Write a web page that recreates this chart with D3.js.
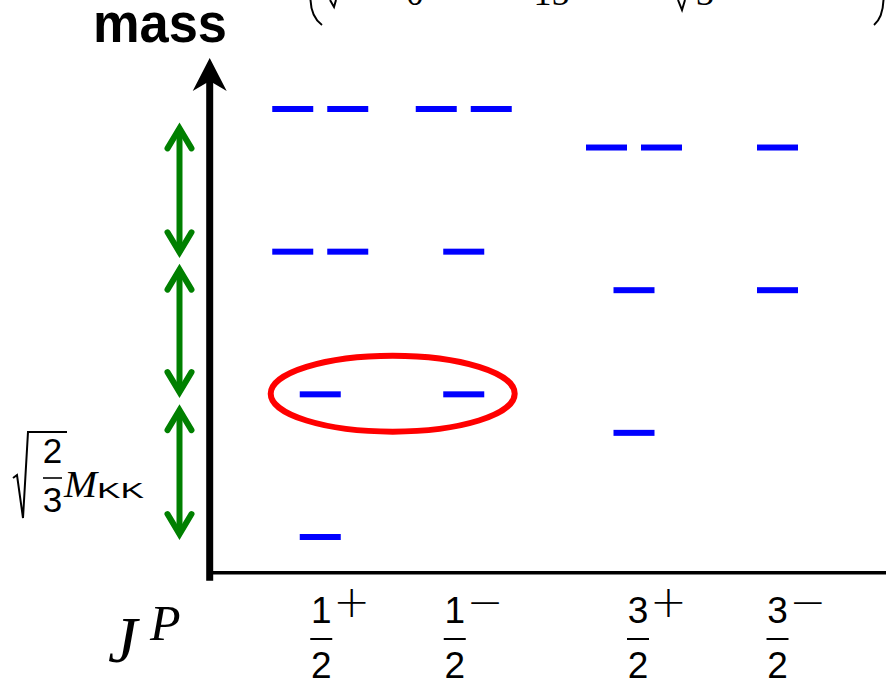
<!DOCTYPE html>
<html>
<head>
<meta charset="utf-8">
<script src="https://cdn.jsdelivr.net/npm/d3@7"></script>
<style>
  html, body { margin: 0; padding: 0; background: #fff; }
  svg { display: block; }
</style>
</head>
<body>
<div id="chart"></div>
<script>
// columns of the spectrum: spin groups and parities
var spins = ['1/2', '3/2'];
var parities = ['+', '-'];

// one entry per level: column, mass (units of sqrt(2/3) M_KK), number of degenerate states
var levelSpin   = ['1/2', '1/2', '1/2', '1/2', '1/2', '1/2', '1/2', '3/2', '3/2', '3/2', '3/2', '3/2'];
var levelParity = ['+', '+', '+', '+', '-', '-', '-', '+', '+', '+', '-', '-'];
var levelMass   = [0, 1, 2, 3, 1, 2, 3, 0.73, 1.73, 2.73, 1.73, 2.73];
var levelCount  = [1, 1, 2, 2, 1, 1, 2, 1, 1, 2, 1, 1];

// green spacing arrows (mass at lower and upper tip)
var gapFrom = [-0.02, 0.975, 1.955];
var gapTo   = [0.93, 1.915, 2.905];

// tick labels, one per column (spin x parity)
var tickNumerators = ['1', '1', '3', '3'];
var tickSigns = ['+', '\u2212', '+', '\u2212'];

// circled pair
var highlightSpin = '1/2';
var highlightMass = 1;

var width = 886, height = 683;

var svg = d3.select('#chart')
    .append('svg')
    .attr('width', width)
    .attr('height', height);

var x = d3.scalePoint().domain(spins).range([392, 705.75]);
var xParity = d3.scalePoint().domain(parities).range([-71.75, 71.75]);
var y = d3.scaleLinear().domain([0, 3]).range([537, 109]);

function colX(s, p) {
    return x(s) + xParity(p);
}

// axes
var axisX = 209.7;
svg.append('line')
    .attr('x1', axisX).attr('x2', axisX)
    .attr('y1', 580.7).attr('y2', 80)
    .attr('stroke', '#000').attr('stroke-width', 7);
svg.append('path')
    .attr('d', 'M' + axisX + ',58 L' + (axisX + 17) + ',91 L' + axisX + ',81 L' + (axisX - 17) + ',91 Z')
    .attr('fill', '#000');
svg.append('line')
    .attr('x1', axisX + 3).attr('x2', width)
    .attr('y1', y(-0.25)).attr('y2', y(-0.25))
    .attr('stroke', '#000').attr('stroke-width', 3.5);

// levels
var dashW = 41, dashStep = 55, dashH = 6;
var dashes = [];
levelMass.forEach(function (m, i) {
    var cx = colX(levelSpin[i], levelParity[i]);
    var n = levelCount[i];
    for (let k = 0; k < n; k++) {
        dashes.push({ cx: cx + (k - (n - 1) / 2) * dashStep, m: m });
    }
});
svg.append('g')
    .selectAll('rect')
    .data(dashes)
    .enter()
    .append('rect')
    .attr('x', d => d.cx - dashW / 2)
    .attr('y', d => y(d.m) - dashH / 2)
    .attr('width', dashW)
    .attr('height', dashH)
    .attr('fill', '#0000ff');

// highlight ellipse
svg.append('ellipse')
    .attr('cx', x(highlightSpin) + 0.7)
    .attr('cy', y(highlightMass) - 0.7)
    .attr('rx', 122)
    .attr('ry', 38)
    .attr('fill', 'none')
    .attr('stroke', '#ff0000')
    .attr('stroke-width', 6);

// green double arrows
var arrowX = 179.5, headDx = 12, headDy = 20, tipExt = 5.8;
var arrows = svg.append('g')
    .attr('stroke', '#008000')
    .attr('stroke-width', 6)
    .attr('fill', 'none');
gapFrom.forEach(function (m0, i) {
    var yb = y(m0) - tipExt;
    var yt = y(gapTo[i]) + tipExt;
    arrows.append('line')
        .attr('x1', arrowX).attr('x2', arrowX)
        .attr('y1', yb).attr('y2', yt);
    arrows.append('path')
        .attr('d', 'M' + (arrowX - headDx) + ',' + (yt + headDy) + ' L' + arrowX + ',' + yt + ' L' + (arrowX + headDx) + ',' + (yt + headDy))
        .attr('stroke-linecap', 'round');
    arrows.append('path')
        .attr('d', 'M' + (arrowX - headDx) + ',' + (yb - headDy) + ' L' + arrowX + ',' + yb + ' L' + (arrowX + headDx) + ',' + (yb - headDy))
        .attr('stroke-linecap', 'round');
});

// column tick labels: fraction with parity superscript
var labelNudge = [1, -9, 4, 0];
var columns = [];
spins.forEach(s => parities.forEach(p => columns.push({ s: s, p: p })));
columns.forEach(function (c, i) {
    var cx = colX(c.s, c.p) + labelNudge[i];
    var g = svg.append('g')
        .attr('font-family', 'Liberation Sans, Arial, sans-serif')
        .attr('fill', '#000');
    g.append('text')
        .attr('x', cx).attr('y', 623)
        .attr('text-anchor', 'middle')
        .attr('font-size', 37)
        .text(tickNumerators[i]);
    g.append('line')
        .attr('x1', cx - 11).attr('x2', cx + 11)
        .attr('y1', 639).attr('y2', 639)
        .attr('stroke', '#000').attr('stroke-width', 2);
    g.append('text')
        .attr('x', cx).attr('y', 678)
        .attr('text-anchor', 'middle')
        .attr('font-size', 37)
        .text('2');
    g.append('text')
        .attr('x', cx + 12).attr('y', 617)
        .attr('font-family', 'DejaVu Sans')
        .attr('font-weight', 200)
        .attr('font-size', 44)
        .text(tickSigns[i]);
});

// J^P
svg.append('text')
    .attr('x', 108).attr('y', 662)
    .attr('font-family', 'Liberation Serif, serif')
    .attr('font-style', 'italic')
    .attr('font-size', 66)
    .text('J');
svg.append('text')
    .attr('x', 150).attr('y', 640)
    .attr('font-family', 'Liberation Serif, serif')
    .attr('font-style', 'italic')
    .attr('font-size', 50)
    .text('P');

// axis title
svg.append('text')
    .attr('x', 93).attr('y', 42)
    .attr('font-family', 'Liberation Sans, Arial, sans-serif')
    .attr('font-weight', 'bold')
    .attr('font-size', 56)
    .attr('textLength', 134)
    .attr('lengthAdjust', 'spacingAndGlyphs')
    .text('mass');

// spacing label: sqrt(2/3) M_KK
var sq = svg.append('g');
sq.append('path')
    .attr('d', 'M13,478 L17,475 L23,518 L28,432 L67,432')
    .attr('fill', 'none').attr('stroke', '#000').attr('stroke-width', 2);
sq.append('text')
    .attr('x', 52.5).attr('y', 463)
    .attr('text-anchor', 'middle')
    .attr('font-family', 'Liberation Sans, Arial, sans-serif')
    .attr('font-size', 35)
    .text('2');
sq.append('line')
    .attr('x1', 43).attr('x2', 62)
    .attr('y1', 478).attr('y2', 478)
    .attr('stroke', '#000').attr('stroke-width', 1.6);
sq.append('text')
    .attr('x', 52.5).attr('y', 512)
    .attr('text-anchor', 'middle')
    .attr('font-family', 'Liberation Sans, Arial, sans-serif')
    .attr('font-size', 35)
    .text('3');
sq.append('text')
    .attr('x', 64).attr('y', 497)
    .attr('font-family', 'Liberation Serif, serif')
    .attr('font-style', 'italic')
    .attr('font-size', 38)
    .attr('textLength', 33)
    .attr('lengthAdjust', 'spacingAndGlyphs')
    .text('M');
sq.append('text')
    .attr('x', 97).attr('y', 498)
    .attr('font-family', 'Liberation Sans, Arial, sans-serif')
    .attr('font-size', 22)
    .attr('textLength', 47)
    .attr('lengthAdjust', 'spacingAndGlyphs')
    .text('KK');

// cut-off formula at the top edge
var topMarks = svg.append('g').attr('fill', 'none').attr('stroke', '#000');
topMarks.append('path').attr('d', 'M310.5,0 C311,12 315,20 322,25').attr('stroke-width', 2);
topMarks.append('path').attr('d', 'M883.5,0 C883,12 880,20 874,25').attr('stroke-width', 2);
topMarks.append('path').attr('d', 'M330,0 L334,7 L336,0').attr('stroke-width', 2);
topMarks.append('path').attr('d', 'M678,0 L682,10 L685,0').attr('stroke-width', 2);
var topText = svg.append('g')
    .attr('font-family', 'Liberation Serif, serif')
    .attr('font-size', 36)
    .attr('text-anchor', 'middle');
topText.append('text').attr('x', 415).attr('y', 5).text('0');
topText.append('text').attr('x', 551.5).attr('y', 5).text('15');
topText.append('text').attr('x', 705).attr('y', 5).text('3');
</script>
</body>
</html>
